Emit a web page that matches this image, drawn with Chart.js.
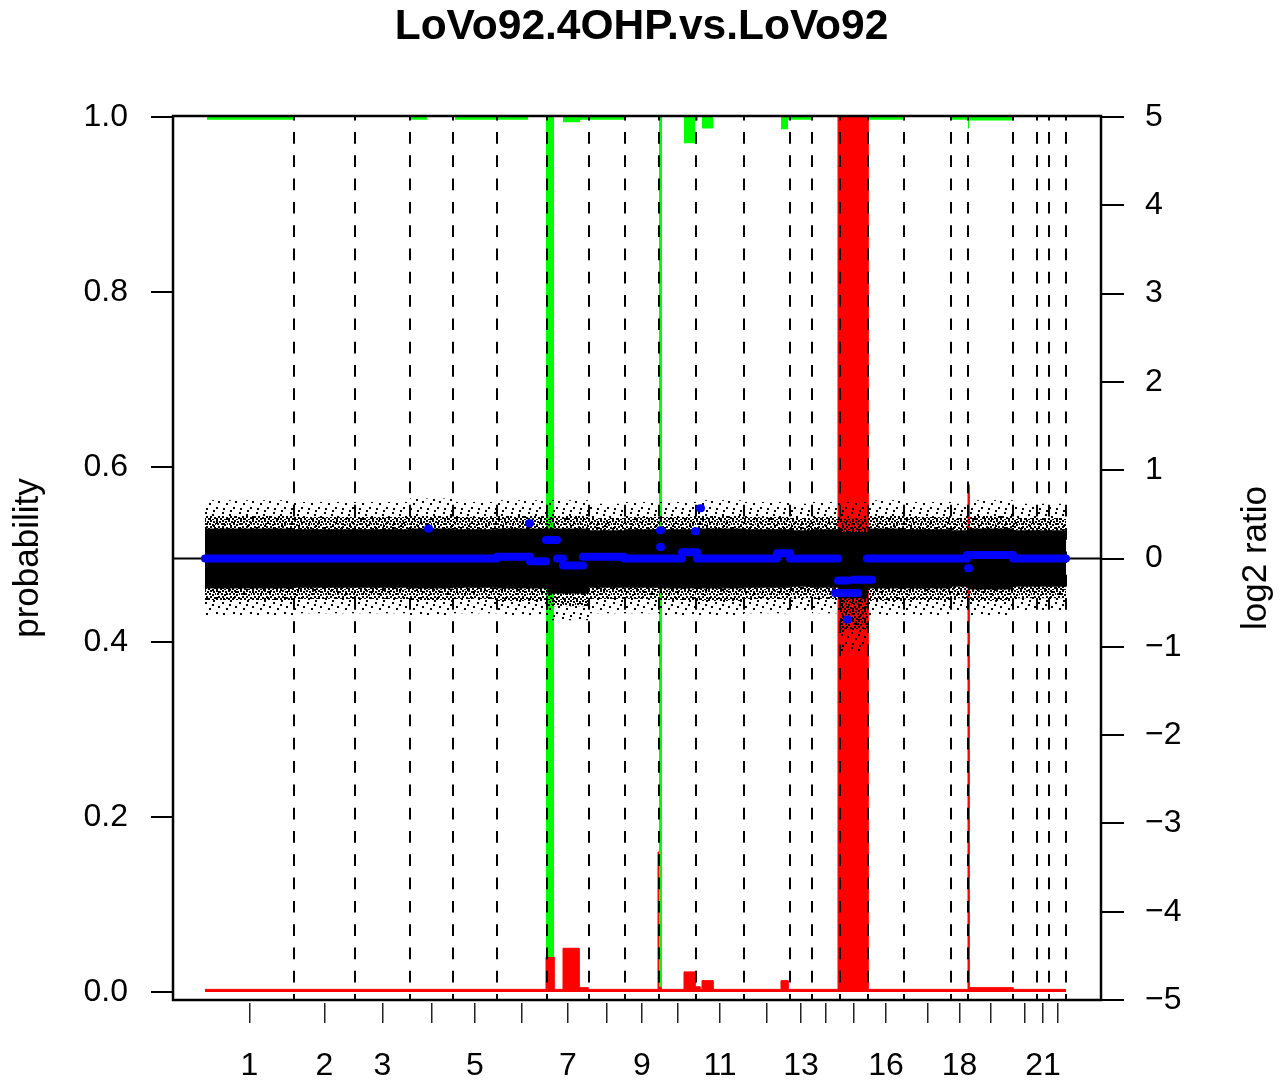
<!DOCTYPE html>
<html>
<head>
<meta charset="utf-8">
<title>LoVo92.4OHP.vs.LoVo92</title>
<script src="https://cdn.jsdelivr.net/npm/chart.js@4.4.1/dist/chart.umd.min.js"></script>
<style>
  html, body { margin:0; padding:0; background:#fff; }
  canvas { display:block; }
</style>
</head>
<body>
<canvas id="chart" width="1283" height="1083"></canvas>
<script>
const FONT = "'Liberation Sans', Arial, Helvetica, sans-serif";
const TITLE = 'LoVo92.4OHP.vs.LoVo92';

// genome axis: cumulative probe index, one block per chromosome
const chromStart = [0, 89, 150, 205, 248, 292, 342, 384, 420, 454, 491, 539, 585, 607, 635, 663, 699, 746, 763, 808, 832, 844];
const chromEnd   = [89, 150, 205, 248, 292, 342, 384, 420, 454, 491, 539, 585, 607, 635, 663, 699, 746, 763, 808, 832, 844, 861];
const chromLabels = ['1','2','3','','5','','7','','9','','11','','13','','','16','','18','','','21',''];

const probTicks  = [0, 0.2, 0.4, 0.6, 0.8, 1.0];
const ratioTicks = [-5, -4, -3, -2, -1, 0, 1, 2, 3, 4, 5];

// spread of the log2 ratio cloud per chromosome
const cloudOuterHi = [0.66, 0.64, 0.64, 0.68, 0.64, 0.66, 0.66, 0.62, 0.64, 0.64, 0.66, 0.64, 0.62, 0.64, 0.64, 0.66, 0.64, 0.62, 0.66, 0.62, 0.62, 0.62];
const cloudMidHi   = [0.48, 0.47, 0.47, 0.48, 0.47, 0.48, 0.48, 0.46, 0.47, 0.47, 0.48, 0.47, 0.46, 0.47, 0.45, 0.48, 0.47, 0.46, 0.48, 0.46, 0.46, 0.46];
const cloudCoreHi  = [0.34, 0.33, 0.33, 0.34, 0.33, 0.34, 0.34, 0.32, 0.33, 0.33, 0.34, 0.33, 0.32, 0.33, 0.30, 0.34, 0.33, 0.32, 0.34, 0.32, 0.32, 0.32];
const cloudCoreLo  = [-0.34, -0.33, -0.33, -0.34, -0.33, -0.34, -0.40, -0.33, -0.33, -0.34, -0.34, -0.33, -0.32, -0.33, -0.45, -0.34, -0.34, -0.32, -0.35, -0.32, -0.32, -0.32];
const cloudMidLo   = [-0.47, -0.46, -0.46, -0.47, -0.46, -0.48, -0.54, -0.46, -0.46, -0.47, -0.48, -0.46, -0.45, -0.46, -0.80, -0.48, -0.47, -0.45, -0.48, -0.45, -0.45, -0.45];
const cloudOuterLo = [-0.64, -0.62, -0.62, -0.64, -0.62, -0.64, -0.70, -0.62, -0.62, -0.64, -0.64, -0.62, -0.60, -0.62, -1.05, -0.64, -0.64, -0.60, -0.64, -0.60, -0.60, -0.60];

// segmented log2 ratio (blue)
const segStart = [0, 223, 292, 324, 325, 341, 352, 358, 378, 419, 455, 455, 456, 477, 490, 492, 495, 572, 585, 630, 633, 642, 648, 662, 762, 763, 808];
const segEnd   = [292, 224, 325, 325, 341, 352, 358, 378, 419, 454, 456, 456, 477, 492, 491, 572, 496, 585, 633, 653, 643, 643, 667, 762, 808, 764, 861];
const segMean  = [0.0, 0.34, 0.02, 0.40, -0.03, 0.21, 0.0, -0.08, 0.02, 0.0, 0.32, 0.13, 0.0, 0.07, 0.31, 0.0, 0.57, 0.06, 0.0, -0.39, -0.25, -0.69, -0.24, 0.0, 0.04, -0.11, 0.0];

// probability of gain (red, from 0 up)
const gainStart = [0, 341, 349, 358, 374, 383, 453, 454, 456, 479, 490, 495, 497, 508, 576, 583, 633, 663, 763, 764, 808];
const gainEnd   = [341, 349, 358, 374, 383, 453, 454, 456, 479, 490, 495, 497, 508, 576, 583, 633, 663, 763, 764, 808, 861];
const gainProb  = [0.003, 0.04, 0.003, 0.05, 0.005, 0.003, 0.16, 0.006, 0.003, 0.023, 0.006, 0.003, 0.013, 0.003, 0.013, 0.003, 1.0, 0.003, 0.58, 0.005, 0.003];

// probability of loss (green, from 1 down)
const lossStart = [2, 205, 250, 341, 358, 375, 454, 479, 490, 497, 576, 583, 663, 747, 763, 764];
const lossEnd   = [88, 222, 323, 349, 375, 419, 457, 490, 493, 508, 583, 607, 699, 763, 764, 808];
const lossProb  = [0.003, 0.003, 0.003, 0.96, 0.006, 0.003, 0.994, 0.03, 0.004, 0.013, 0.014, 0.003, 0.003, 0.003, 0.013, 0.004];

const BLUE_INDEX = 6;

function chromSteps(vals){
  const pts = [];
  vals.forEach((v, i) => { pts.push({x: chromStart[i], y: v}, {x: chromEnd[i], y: v}); });
  return pts;
}

function blueSegments(){
  const idx = segStart.map((_, i) => i).sort((a, b) => segStart[a] - segStart[b]);
  const pts = [];
  idx.forEach(i => { pts.push({x: segStart[i], y: segMean[i]}, {x: segEnd[i], y: segMean[i]}, {x: segEnd[i], y: null}); });
  return pts;
}

function gainSteps(){
  const pts = [];
  gainStart.forEach((s, i) => { pts.push({x: s, y: gainProb[i]}, {x: gainEnd[i], y: gainProb[i]}); });
  return pts;
}

function lossSteps(){
  const pts = [];
  let cur = 0;
  lossStart.forEach((s, i) => {
    if (s > cur) pts.push({x: cur, y: 1}, {x: s, y: 1});
    pts.push({x: s, y: 1 - lossProb[i]}, {x: lossEnd[i], y: 1 - lossProb[i]});
    cur = lossEnd[i];
  });
  if (cur < 861) pts.push({x: cur, y: 1}, {x: 861, y: 1});
  return pts;
}

// fill textures for the speckled edges of the point cloud
function dotPattern(w, h, size, dots){
  const c = document.createElement('canvas');
  c.width = w; c.height = h;
  const g = c.getContext('2d');
  g.fillStyle = '#000';
  dots.forEach(([x, y]) => g.fillRect(x, y, size, size));
  return g.createPattern(c, 'repeat');
}
const densePat  = dotPattern(12, 10, 2, [[0,0],[3,1],[6,0],[9,1],[1,3],[5,3],[8,4],[11,3],[2,6],[6,6],[10,7],[0,8],[4,8],[8,9]]);
const sparsePat = dotPattern(17, 15, 2, [[1,2],[9,0],[14,6],[5,8],[12,12],[2,13],[8,4]]);

function band(data, color, fill, order){
  return { data, yAxisID: 'yr', borderWidth: 0, pointRadius: 0, backgroundColor: color, fill, order };
}

const overlay = {
  id: 'overlay',
  // chromosome separators and the zero line go under the blue segments
  beforeDatasetDraw(chart, args){
    if (args.index !== BLUE_INDEX) return;
    const {ctx, chartArea: a, scales} = chart;
    ctx.save();
    ctx.strokeStyle = '#000';
    ctx.lineWidth = 2;
    ctx.setLineDash([11.7, 11.6]);
    ctx.lineDashOffset = 7.3;
    chromEnd.forEach(b => {
      const px = Math.round(scales.x.getPixelForValue(b));
      ctx.beginPath(); ctx.moveTo(px, a.top); ctx.lineTo(px, a.bottom); ctx.stroke();
    });
    ctx.setLineDash([]);
    const y0 = scales.yr.getPixelForValue(0);
    ctx.beginPath(); ctx.moveTo(a.left, y0); ctx.lineTo(a.right, y0); ctx.stroke();
    ctx.restore();
  },
  afterDatasetsDraw(chart){
    const {ctx, chartArea: a} = chart;
    ctx.save();
    ctx.strokeStyle = '#000';
    ctx.lineWidth = 2.5;
    ctx.strokeRect(a.left, a.top, a.right - a.left, a.bottom - a.top);
    ctx.restore();
  },
  afterDraw(chart){
    const {ctx, chartArea: a} = chart;
    ctx.save();
    ctx.translate(1256, (a.top + a.bottom) / 2);
    ctx.rotate(-Math.PI / 2);
    ctx.font = '35px ' + FONT;
    ctx.fillStyle = '#000';
    ctx.textAlign = 'center';
    ctx.textBaseline = 'middle';
    ctx.fillText('log2 ratio', 0, 0);
    ctx.restore();
  }
};

new Chart(document.getElementById('chart'), {
  type: 'line',
  data: {
    datasets: [
      band(chromSteps(cloudOuterHi), sparsePat, '+1', 4),
      band(chromSteps(cloudOuterLo), 'transparent', false, 4),
      band(chromSteps(cloudMidHi), densePat, '+1', 3),
      band(chromSteps(cloudMidLo), 'transparent', false, 3),
      band(chromSteps(cloudCoreHi), '#000', '+1', 2),
      band(chromSteps(cloudCoreLo), 'transparent', false, 2),
      { data: blueSegments(), yAxisID: 'yr', borderColor: '#0000ff', borderWidth: 8,
        borderCapStyle: 'round', borderJoinStyle: 'round', pointRadius: 0, spanGaps: false, fill: false, order: 1 },
      { data: gainSteps(), yAxisID: 'y', borderColor: '#ff0000', borderWidth: 1, backgroundColor: '#ff0000',
        pointRadius: 0, fill: {value: 0}, order: 6 },
      { data: lossSteps(), yAxisID: 'y', borderWidth: 0, backgroundColor: '#00ff00',
        pointRadius: 0, fill: {value: 1}, order: 5 }
    ]
  },
  options: {
    responsive: false,
    animation: false,
    devicePixelRatio: 1,
    layout: { padding: 0 },
    plugins: {
      legend: { display: false },
      tooltip: { enabled: false },
      title: { display: true, text: TITLE, color: '#000',
        font: { family: FONT, size: 42.5, weight: 'bold', lineHeight: 1 },
        padding: { top: 6.5, bottom: 67 } }
    },
    scales: {
      x: {
        type: 'linear', min: -32, max: 896,
        border: { display: false },
        grid: { drawOnChartArea: false, drawTicks: true, tickLength: 23, color: '#222', lineWidth: 1.5, tickBorderDash: [0, 3, 20, 100] },
        afterBuildTicks: s => { s.ticks = chromStart.map((st, i) => ({ value: (st + chromEnd[i]) / 2 })); },
        afterFit: s => { s.height = 83; },
        ticks: { autoSkip: false, maxRotation: 0, minRotation: 0, padding: 24, color: '#000',
          font: { family: FONT, size: 32 }, callback: (v, i) => chromLabels[i] }
      },
      y: {
        position: 'left', min: -8 / 875, max: 1 + 1 / 875,
        border: { display: false },
        grid: { drawOnChartArea: false, drawTicks: true, tickLength: 22, color: '#000', lineWidth: 2 },
        afterBuildTicks: s => { s.ticks = probTicks.map(v => ({ value: v })); },
        afterFit: s => { s.width = 173; },
        ticks: { padding: 23, color: '#000', font: { family: FONT, size: 32 }, callback: v => v.toFixed(1) },
        title: { display: true, text: 'probability', color: '#000', font: { family: FONT, size: 35 }, padding: { top: 7, bottom: 0 } }
      },
      yr: {
        position: 'right', min: -5, max: 5 + 1 / 88.3,
        border: { display: false },
        grid: { drawOnChartArea: false, drawTicks: true, tickLength: 23, color: '#000', lineWidth: 2 },
        afterBuildTicks: s => { s.ticks = ratioTicks.map(v => ({ value: v })); },
        afterFit: s => { s.width = 182; },
        ticks: { padding: 21, color: '#000', font: { family: FONT, size: 32 },
          callback: v => v < 0 ? '\u2212' + Math.abs(v) : String(v) }
      }
    }
  },
  plugins: [overlay]
});
</script>
</body>
</html>
